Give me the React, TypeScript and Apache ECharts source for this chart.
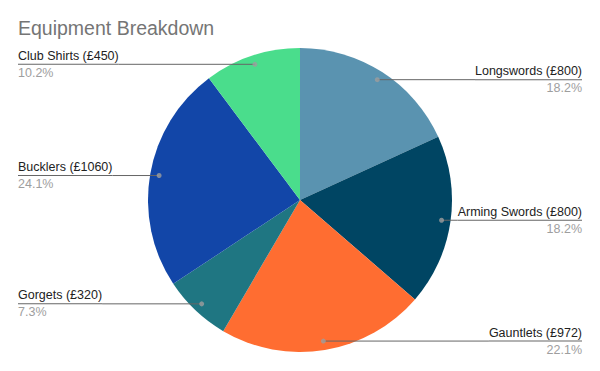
import React, { useEffect, useRef } from "react";
import * as echarts from "echarts";

const titleText = "Equipment Breakdown";
const categories = ["Longswords", "Arming Swords", "Gauntlets", "Gorgets", "Bucklers", "Club Shirts"];
const values = [800, 800, 972, 320, 1060, 450];
const colors = ["#5a93b0", "#004563", "#ff6d31", "#1f7682", "#1246a8", "#4add8c"];

const FONT = "'Liberation Sans', Arial, sans-serif";

export default function App() {
  const ref = useRef<HTMLDivElement>(null);
  useEffect(() => {
    document.body.style.margin = "0";
    const chart = echarts.init(ref.current!, null, { renderer: "svg" });
    const total = values.reduce((a, b) => a + b, 0);
    const cx = 300, cy = 200, R = 152, dotR = 143;
    const data = categories.map((c, i) => ({ name: c, value: values[i], itemStyle: { color: colors[i] } }));
    let cum = 0;
    const dots = values.map((v) => {
      const mid = cum + v / 2;
      cum += v;
      return [dotR, mid];
    });
    chart.setOption({
      animation: false,
      title: {
        text: titleText,
        left: 18,
        top: 18,
        padding: 0,
        textStyle: { fontSize: 19.5, color: "#757575", fontWeight: "normal", fontFamily: FONT },
      },
      polar: { center: [cx, cy], radius: R },
      angleAxis: { type: "value", min: 0, max: total, startAngle: 90, clockwise: true, show: false },
      radiusAxis: { type: "value", min: 0, max: R, show: false },
      series: [
        {
          type: "pie",
          center: [cx, cy],
          radius: [0, R],
          startAngle: 90,
          clockwise: true,
          silent: true,
          label: { show: false },
          labelLine: { show: false },
          itemStyle: { borderWidth: 0 },
          data,
          z: 1,
        },
        {
          type: "pie",
          center: [cx, cy],
          radius: [0, dotR],
          startAngle: 90,
          clockwise: true,
          silent: true,
          avoidLabelOverlap: true,
          itemStyle: { color: "rgba(0,0,0,0)", borderWidth: 0 },
          emphasis: { disabled: true },
          label: {
            show: true,
            position: "outside",
            alignTo: "edge",
            edgeDistance: 18,
            distanceToLabelLine: 0,
            fontFamily: FONT,
            formatter: (p: any) =>
              `{n|${p.name} (£${p.value})}\n{hr|}\n{p|${((p.value / total) * 100).toFixed(1)}%}`,
            rich: {
              n: { fontSize: 12.5, color: "#222222", lineHeight: 16, fontFamily: FONT },
              hr: { width: "100%", height: 1, lineHeight: 1, backgroundColor: "#666666" },
              p: { fontSize: 12.5, color: "#9e9e9e", lineHeight: 16, fontFamily: FONT },
            },
          },
          labelLine: { show: true, length: 0, length2: 10, lineStyle: { color: "#666666", width: 1 } },
          data: categories.map((c, i) => ({ name: c, value: values[i] })),
          z: 2,
        },
        {
          type: "scatter",
          coordinateSystem: "polar",
          symbol: "circle",
          symbolSize: 5,
          silent: true,
          itemStyle: { color: "#9e9e9e" },
          data: dots,
          z: 3,
        },
      ],
    });
    return () => chart.dispose();
  }, []);
  return <div ref={ref} style={{ width: 600, height: 371 }} />;
}
